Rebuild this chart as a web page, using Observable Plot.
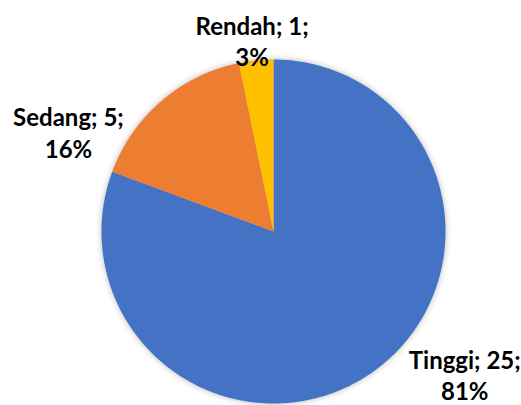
<!DOCTYPE html>
<html>
<head>
<meta charset="utf-8">
<script src="https://cdn.jsdelivr.net/npm/d3@7"></script>
<script src="https://cdn.jsdelivr.net/npm/@observablehq/plot@0.6"></script>
<style>
  html, body { margin: 0; padding: 0; background: #fff; }
  #chart svg g[aria-label="line"] { filter: drop-shadow(0 0 3px rgba(0,0,0,0.28)); }
</style>
</head>
<body>
<div id="chart"></div>
<script>
const categories = ["Tinggi", "Sedang", "Rendah"];
const values = [25, 5, 1];
const colors = ["#4472C4", "#ED7D31", "#FFC000"];

// layout (pixel offsets of each label from its slice's rim point)
const labelOffsets = [[93, 2], [-93, 31], [-4, -20]];

const W = 521, H = 405, R = 172, CX = 273, CY = 231;
const total = d3.sum(values);
const arcs = d3.pie().sort(null).value(d => d)(values);

const polys = [];
arcs.forEach((a, i) => {
  polys.push({cat: categories[i], x: 0, y: 0});
  const n = Math.max(4, Math.ceil((a.endAngle - a.startAngle) / 0.01));
  for (let k = 0; k <= n; k++) {
    const t = a.startAngle + (a.endAngle - a.startAngle) * k / n;
    polys.push({cat: categories[i], x: Math.sin(t), y: Math.cos(t)});
  }
  polys.push({cat: categories[i], x: 0, y: 0});
});

const labels = arcs.map((a, i) => {
  const m = (a.startAngle + a.endAngle) / 2;
  return {
    x: Math.sin(m) + labelOffsets[i][0] / R,
    y: Math.cos(m) - labelOffsets[i][1] / R,
    text: `${categories[i]}; ${values[i]};\n${Math.round(values[i] / total * 100)}%`
  };
});

const chart = Plot.plot({
  width: W, height: H,
  margin: 0,
  style: {background: "#fff"},
  x: {domain: [-CX / R, (W - CX) / R], axis: null},
  y: {domain: [-(H - CY) / R, CY / R], axis: null},
  color: {domain: categories, range: colors},
  marks: [
    Plot.line(polys, {x: "x", y: "y", z: "cat", fill: "cat", stroke: "none", curve: "linear"}),
    Plot.text(labels, {x: "x", y: "y", text: "text", fontSize: 24, fontWeight: "bold",
      fontFamily: "Lato, 'Liberation Sans', sans-serif", fill: "#000", lineHeight: 1.3, lineAnchor: "middle"})
  ]
});
document.getElementById("chart").appendChild(chart);
</script>
</body>
</html>
